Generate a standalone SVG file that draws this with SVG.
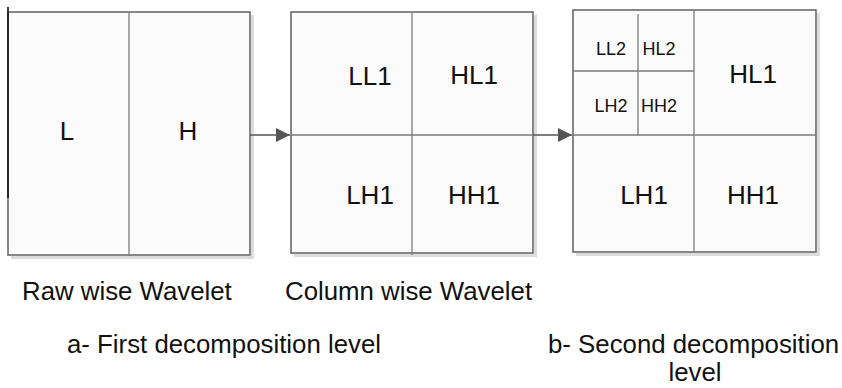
<svg xmlns="http://www.w3.org/2000/svg" width="842" height="388" viewBox="0 0 842 388">
  <defs>
    <marker id="head" viewBox="0 0 14 14" refX="14" refY="7" markerWidth="14" markerHeight="14" markerUnits="userSpaceOnUse" orient="auto">
      <path d="M0,0 L14,7 L0,14 Z" fill="#555"/>
    </marker>
  </defs>
  <style>
    .shadow { fill: none; stroke: #dcdcdc; stroke-width: 3; }
    .frame { fill: #fbfbfb; stroke: #6a6a6a; stroke-width: 1.6; }
    .div { stroke: #7a7a7a; stroke-width: 1.3; fill: none; }
    .lbl { font-family: "Liberation Sans", Arial, sans-serif; font-size: 26px; fill: #111; text-anchor: middle; }
    .sm { font-family: "Liberation Sans", Arial, sans-serif; font-size: 18px; fill: #111; text-anchor: middle; }
    .cap { font-family: "Liberation Sans", Arial, sans-serif; font-size: 25.8px; fill: #111; }
    .conn { stroke: #555; stroke-width: 1.6; fill: none; }
  </style>
  <rect width="842" height="388" fill="#ffffff"/>

  <!-- row-wise transform: L | H -->
  <g id="raw-wise">
    <path class="shadow" d="M252.5,15 V257.5 H11"/>
    <rect class="frame" x="8" y="12" width="242" height="243"/>
    <line class="div" x1="129" y1="13" x2="129" y2="256"/>
    <line x1="8" y1="7" x2="8" y2="198" stroke="#111" stroke-width="1.6"/>
    <text class="lbl" x="67" y="140">L</text>
    <text class="lbl" x="188" y="140">H</text>
  </g>

  <!-- column-wise transform: four sub-bands -->
  <g id="column-wise">
    <path class="shadow" d="M535.5,15 V255.5 H294"/>
    <rect class="frame" x="291" y="12" width="242" height="241"/>
    <line class="div" x1="412" y1="13" x2="412" y2="255"/>
    <line class="div" x1="291" y1="135" x2="533" y2="135"/>
    <text class="lbl" x="370" y="85">LL1</text>
    <text class="lbl" x="474" y="84">HL1</text>
    <text class="lbl" x="370" y="204">LH1</text>
    <text class="lbl" x="474" y="204">HH1</text>
  </g>

  <!-- second level: LL1 split again -->
  <g id="second-level">
    <path class="shadow" d="M818.5,13 V254.5 H576"/>
    <rect class="frame" x="573" y="10" width="243" height="242"/>
    <line class="div" x1="694" y1="11" x2="694" y2="253"/>
    <line class="div" x1="573" y1="135" x2="816" y2="135"/>
    <line class="div" x1="638" y1="14" x2="638" y2="135"/>
    <line class="div" x1="573" y1="71" x2="694" y2="71"/>
    <text class="sm" x="611" y="55">LL2</text>
    <text class="sm" x="659" y="55">HL2</text>
    <text class="sm" x="611" y="112">LH2</text>
    <text class="sm" x="659" y="112">HH2</text>
    <text class="lbl" x="753" y="83">HL1</text>
    <text class="lbl" x="644" y="204">LH1</text>
    <text class="lbl" x="753" y="204">HH1</text>
  </g>

  <g id="connectors">
    <line class="conn" x1="250" y1="135" x2="290" y2="135" marker-end="url(#head)"/>
    <line class="conn" x1="533" y1="135" x2="572" y2="135" marker-end="url(#head)"/>
  </g>

  <g id="captions">
    <text class="cap" x="22" y="300">Raw wise Wavelet</text>
    <text class="cap" x="285" y="300">Column wise Wavelet</text>
    <text class="cap" x="67" y="353">a- First decomposition level</text>
    <text class="cap" x="548" y="353">b- Second decomposition</text>
    <text class="cap" x="695" y="381" text-anchor="middle">level</text>
  </g>
</svg>
